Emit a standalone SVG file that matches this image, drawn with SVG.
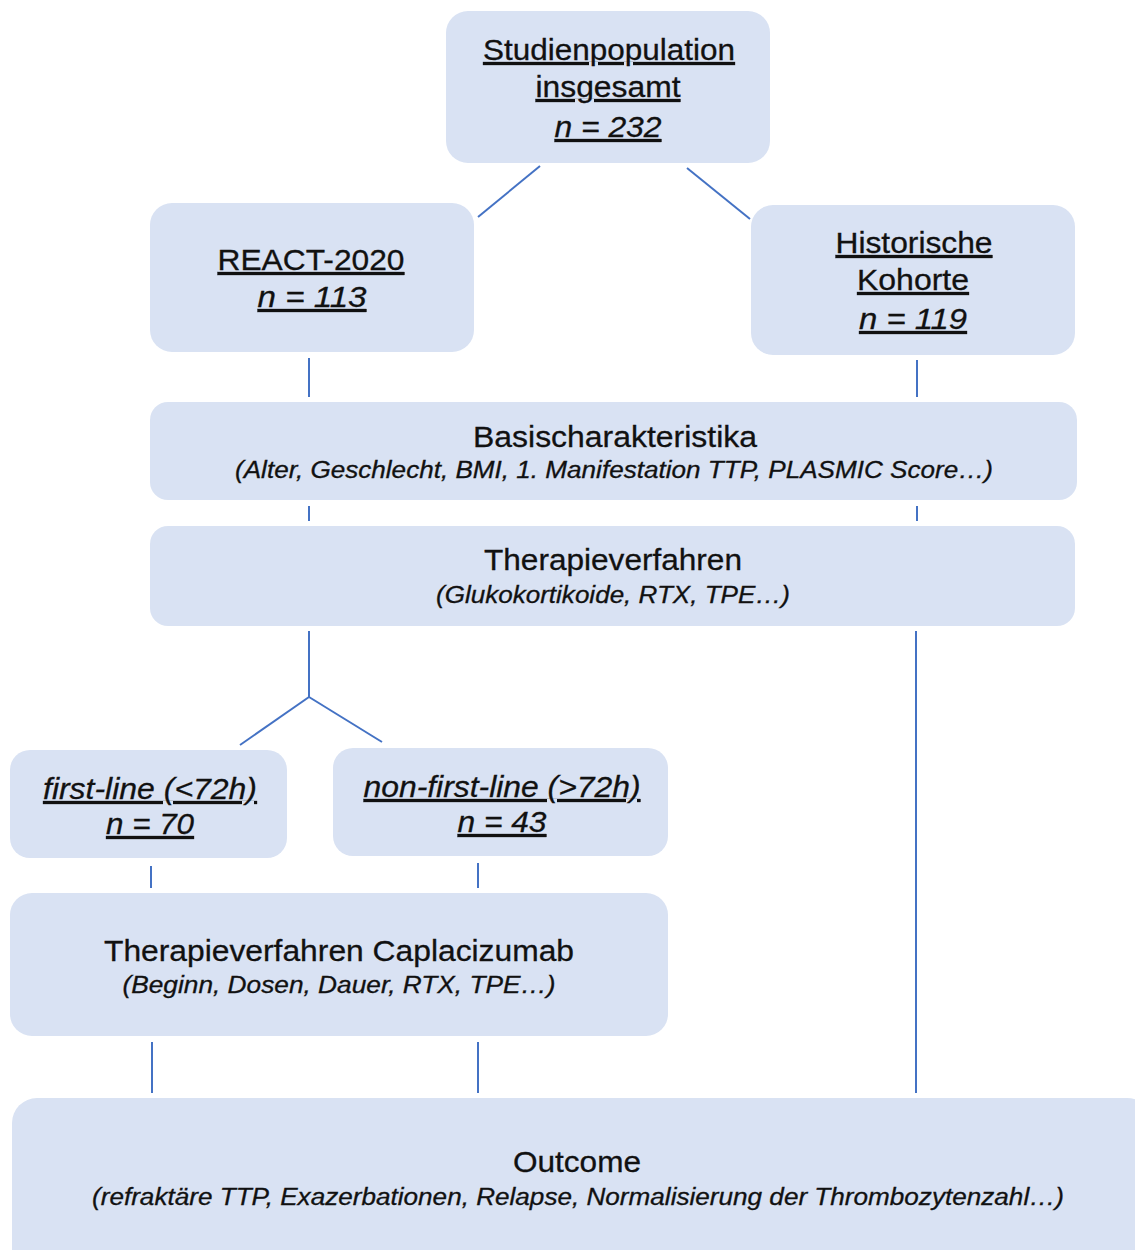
<svg xmlns="http://www.w3.org/2000/svg" width="1135" height="1250" viewBox="0 0 1135 1250">
<style>
.box{fill:#D9E2F3;stroke:none}
.conn line{stroke:#4472C4;stroke-width:2;stroke-linecap:butt}
text{font-family:"Liberation Sans",Arial,sans-serif;fill:#111111;stroke:#111111;stroke-width:0.3;text-anchor:middle}
.t{font-size:30px}
.s{font-size:23.5px;font-style:italic}
.u{text-decoration:underline}
.i{font-style:italic}
</style>
<rect width="1135" height="1250" fill="#FFFFFF"/>
<g id="connectors" class="conn">
<line x1="540" y1="166" x2="478" y2="217"/>
<line x1="687" y1="168" x2="750" y2="219"/>
<line x1="309" y1="358" x2="309" y2="397"/>
<line x1="917" y1="360" x2="917" y2="397"/>
<line x1="309" y1="506" x2="309" y2="521"/>
<line x1="917" y1="506" x2="917" y2="521"/>
<line x1="309" y1="631" x2="309" y2="697"/>
<line x1="309" y1="697" x2="240" y2="745"/>
<line x1="309" y1="697" x2="382" y2="742"/>
<line x1="151" y1="866" x2="151" y2="888"/>
<line x1="478" y1="863" x2="478" y2="888"/>
<line x1="152" y1="1042" x2="152" y2="1093"/>
<line x1="478" y1="1042" x2="478" y2="1093"/>
<line x1="916" y1="631" x2="916" y2="1093"/>
</g>
<g id="studienpopulation">
<rect class="box" x="446" y="11" width="324" height="152" rx="22"/>
<text class="t u" x="609" y="60" textLength="252" lengthAdjust="spacingAndGlyphs">Studienpopulation</text>
<text class="t u" x="608" y="97" textLength="145" lengthAdjust="spacingAndGlyphs">insgesamt</text>
<text class="t u i" x="608" y="137" textLength="107" lengthAdjust="spacingAndGlyphs">n = 232</text>
</g>
<g id="react">
<rect class="box" x="150" y="203" width="324" height="149" rx="22"/>
<text class="t u" x="311" y="270" textLength="187" lengthAdjust="spacingAndGlyphs">REACT-2020</text>
<text class="t u i" x="312" y="307" textLength="109" lengthAdjust="spacingAndGlyphs">n = 113</text>
</g>
<g id="historisch">
<rect class="box" x="751" y="205" width="324" height="150" rx="22"/>
<text class="t u" x="914" y="253" textLength="157" lengthAdjust="spacingAndGlyphs">Historische</text>
<text class="t u" x="913" y="290" textLength="112" lengthAdjust="spacingAndGlyphs">Kohorte</text>
<text class="t u i" x="913" y="329" textLength="108" lengthAdjust="spacingAndGlyphs">n = 119</text>
</g>
<g id="basis">
<rect class="box" x="150" y="402" width="927" height="98" rx="18"/>
<text class="t" x="615" y="447" textLength="284" lengthAdjust="spacingAndGlyphs">Basischarakteristika</text>
<text class="s" x="614" y="478" textLength="758" lengthAdjust="spacingAndGlyphs">(Alter, Geschlecht, BMI, 1. Manifestation TTP, PLASMIC Score…)</text>
</g>
<g id="therapie">
<rect class="box" x="150" y="526" width="925" height="100" rx="18"/>
<text class="t" x="613" y="570" textLength="258" lengthAdjust="spacingAndGlyphs">Therapieverfahren</text>
<text class="s" x="613" y="603" textLength="354" lengthAdjust="spacingAndGlyphs">(Glukokortikoide, RTX, TPE…)</text>
</g>
<g id="firstline">
<rect class="box" x="10" y="750" width="277" height="108" rx="20"/>
<text class="t u i" x="150" y="799" textLength="214" lengthAdjust="spacingAndGlyphs">first-line (&lt;72h)</text>
<text class="t u i" x="150" y="834" textLength="88" lengthAdjust="spacingAndGlyphs">n = 70</text>
</g>
<g id="nonfirstline">
<rect class="box" x="333" y="748" width="335" height="108" rx="20"/>
<text class="t u i" x="502" y="797" textLength="277" lengthAdjust="spacingAndGlyphs">non-first-line (&gt;72h)</text>
<text class="t u i" x="502" y="832" textLength="89" lengthAdjust="spacingAndGlyphs">n = 43</text>
</g>
<g id="caplacizumab">
<rect class="box" x="10" y="893" width="658" height="143" rx="22"/>
<text class="t" x="339" y="961" textLength="470" lengthAdjust="spacingAndGlyphs">Therapieverfahren Caplacizumab</text>
<text class="s" x="339" y="993" textLength="433" lengthAdjust="spacingAndGlyphs">(Beginn, Dosen, Dauer, RTX, TPE…)</text>
</g>
<g id="outcome">
<rect class="box" x="12" y="1098" width="1140" height="180" rx="25"/>
<text class="t" x="577" y="1172" textLength="128" lengthAdjust="spacingAndGlyphs">Outcome</text>
<text class="s" x="578" y="1205" textLength="972" lengthAdjust="spacingAndGlyphs">(refraktäre TTP, Exazerbationen, Relapse, Normalisierung der Thrombozytenzahl…)</text>
</g>
</svg>
